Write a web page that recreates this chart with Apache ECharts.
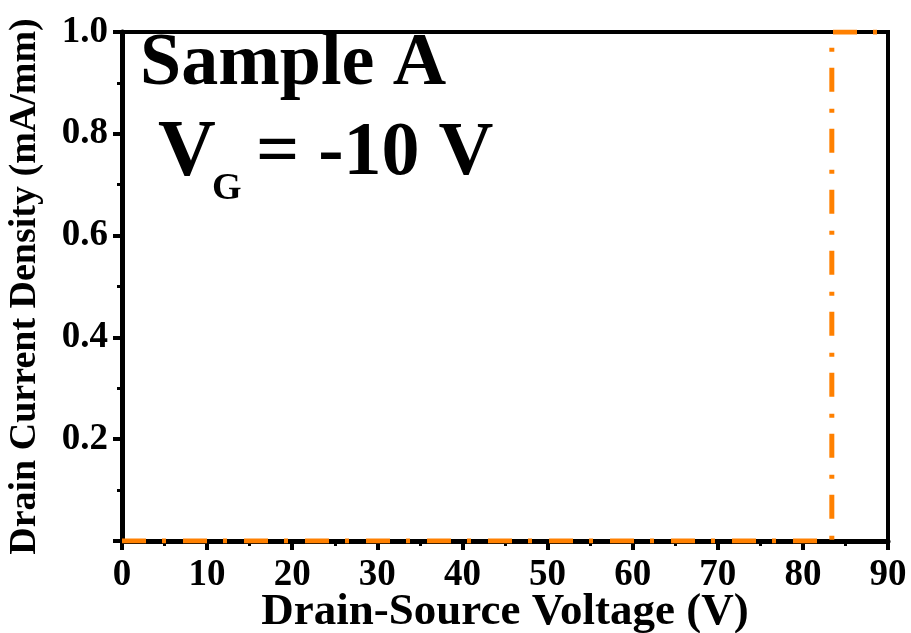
<!DOCTYPE html>
<html>
<head>
<meta charset="utf-8">
<script src="https://cdn.jsdelivr.net/npm/echarts@6/dist/echarts.min.js"></script>
<style>
  html, body { margin: 0; padding: 0; background: #fff; }
  #chart { width: 911px; height: 633px; }
</style>
</head>
<body>
<div id="chart"></div>
<script>
// Drain-source sweep at V_G = -10 V (Sample A): off-state until breakdown
const drainVoltage = [0, 83.4, 83.4, 90];      // V
const drainCurrent = [0, 0, 1.0, 1.0];         // mA/mm
const xTicks = [0, 10, 20, 30, 40, 50, 60, 70, 80, 90];
const yTicks = [0.2, 0.4, 0.6, 0.8, 1.0];

const FONT = '"Liberation Serif", "Times New Roman", serif';
const curve = drainVoltage.map((v, i) => [v, drainCurrent[i]]);

const chart = echarts.init(document.getElementById('chart'), null, { renderer: 'canvas' });

chart.setOption({
  animation: false,
  backgroundColor: '#ffffff',
  grid: {
    left: 122, right: 23, top: 32, bottom: 92,
    containLabel: false, outerBoundsMode: 'none',
    show: true, borderColor: '#000', borderWidth: 4, backgroundColor: 'transparent'
  },
  xAxis: {
    type: 'value', min: 0, max: 90, interval: 10,
    name: 'Drain-Source Voltage (V)', nameLocation: 'middle', nameGap: 49,
    nameMoveOverlap: false,
    nameTextStyle: { fontFamily: FONT, fontWeight: 'bold', fontSize: 45, color: '#000' },
    axisLine: { show: true, lineStyle: { color: '#000', width: 5 } },
    axisTick: { show: true, inside: false, length: 9, lineStyle: { color: '#000', width: 4 } },
    minorTick: { show: true, splitNumber: 2, length: 5, lineStyle: { color: '#000', width: 3 } },
    splitLine: { show: false },
    axisLabel: {
      margin: 16, fontFamily: FONT, fontWeight: 'bold', fontSize: 37, color: '#000',
      formatter: v => xTicks.includes(v) ? String(v) : ''
    }
  },
  yAxis: {
    type: 'value', min: 0, max: 1.0, interval: 0.2,
    name: 'Drain Current Density (mA/mm)', nameLocation: 'middle', nameGap: 78,
    nameMoveOverlap: false,
    nameTextStyle: { fontFamily: FONT, fontWeight: 'bold', fontSize: 38, color: '#000' },
    axisLine: { show: true, lineStyle: { color: '#000', width: 5 } },
    axisTick: { show: true, inside: false, length: 9, lineStyle: { color: '#000', width: 4 } },
    minorTick: { show: true, splitNumber: 2, length: 5, lineStyle: { color: '#000', width: 3 } },
    splitLine: { show: false },
    axisLabel: {
      margin: 14, fontFamily: FONT, fontWeight: 'bold', fontSize: 37, color: '#000',
      formatter: v => {
        const t = yTicks.find(k => Math.abs(k - v) < 1e-9);
        return t === undefined ? '' : t.toFixed(1);
      }
    }
  },
  series: [{
    type: 'line',
    data: curve,
    showSymbol: false,
    symbol: 'none',
    z: 5,
    lineStyle: { color: '#FF8000', width: 5, type: [24, 16, 4, 17], cap: 'butt' }
  }],
  graphic: [
    {
      type: 'text', z: 10,
      style: { x: 140, y: 65, text: 'Sample A', fill: '#000',
        font: 'bold 74px ' + FONT, verticalAlign: 'middle', align: 'left' }
    },
    {
      type: 'text', z: 10,
      style: { x: 158, y: 154, text: 'V', fill: '#000',
        font: 'bold 80px ' + FONT, verticalAlign: 'middle', align: 'left' }
    },
    {
      type: 'text', z: 10,
      style: { x: 212, y: 189, text: 'G', fill: '#000',
        font: 'bold 38px ' + FONT, verticalAlign: 'middle', align: 'left' }
    },
    {
      type: 'text', z: 10,
      style: { x: 256, y: 154, text: '= -10 V', fill: '#000',
        font: 'bold 76px ' + FONT, verticalAlign: 'middle', align: 'left' }
    }
  ]
});
</script>
</body>
</html>
